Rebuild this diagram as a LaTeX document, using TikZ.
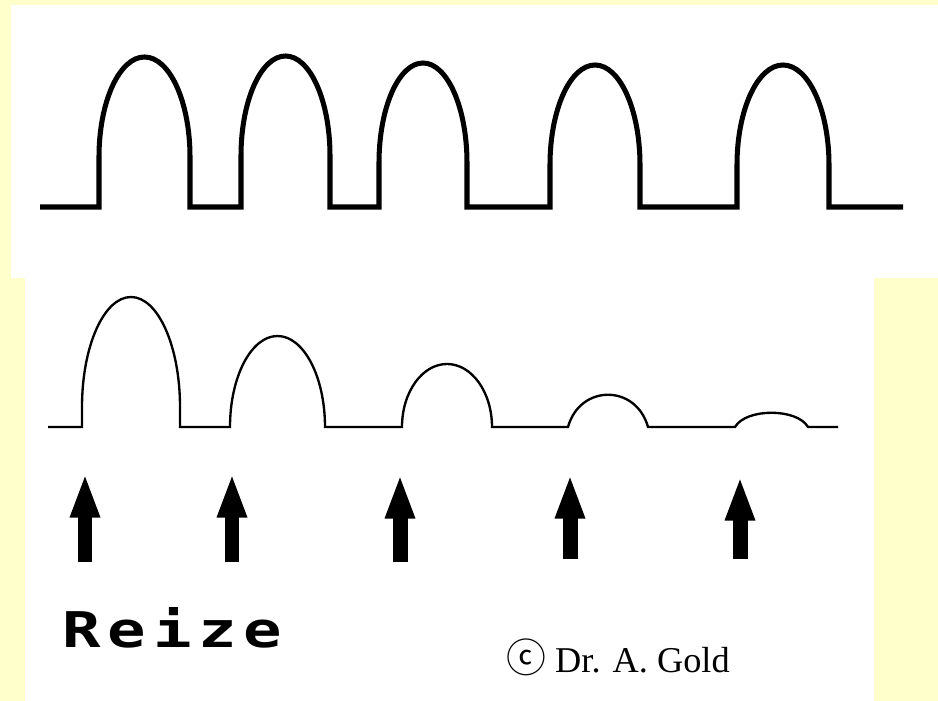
\documentclass[tikz,border=0pt]{standalone}
\usepackage{fontspec}
\usetikzlibrary{arrows.meta}
\newfontfamily\stimfont{DejaVu Sans Mono}[FakeStretch=1.3, LetterSpace=14]
\newfontfamily\signfont{Liberation Serif}
\newfontfamily\circfont{Noto Sans CJK SC}
\definecolor{paper}{RGB}{255,255,204}
\begin{document}
\begin{tikzpicture}[
    x=0.03cm, y=-0.03cm,
    strong/.style={line width=4.3pt, black},
    weak/.style={line width=2pt, black},
    stim/.style={line width=12.8pt, -{Triangle[width=23pt, length=38pt]}},
    label/.style={inner sep=0pt, anchor=base west}
]
\useasboundingbox (0,0) rectangle (938,701);

% Background panels
\fill[paper] (0,0) rectangle (938,701);
\fill[white] (11,5) rectangle (938,278);
\fill[white] (25,278) rectangle (874,701);

% Top: evenly firing signal
\draw[strong] (40,207) -- (99,207) -- (99,157)
    arc[start angle=180, end angle=360, x radius=45.5, y radius=100] -- (190,207)
    -- (241,207) -- (241,156)
    arc[start angle=180, end angle=360, x radius=44.5, y radius=100] -- (330,207)
    -- (379,207) -- (379,163)
    arc[start angle=180, end angle=360, x radius=44, y radius=100] -- (467,207)
    -- (550,207) -- (550,165)
    arc[start angle=180, end angle=360, x radius=45, y radius=100] -- (640,207)
    -- (737,207) -- (737,165)
    arc[start angle=180, end angle=360, x radius=46, y radius=100] -- (829,207)
    -- (903,207);

% Bottom: fading response
\draw[weak] (48,427) -- (82,427) -- (82,407)
    arc[start angle=180, end angle=360, x radius=49, y radius=110] -- (180,427)
    -- (230,427)
    arc[start angle=180, end angle=360, x radius=47.5, y radius=91]
    -- (402,427)
    arc[start angle=180, end angle=360, x radius=45, y radius=63]
    -- (568,427) .. controls (580,384) and (636,384) .. (648,427)
    -- (735,427) .. controls (746,408) and (797,408) .. (808,427)
    -- (838,427);

% Stimulus arrows
\coordinate (t1) at (85,562);  \coordinate (h1) at (85,473);
\coordinate (t2) at (232,562); \coordinate (h2) at (232,473);
\coordinate (t3) at (400,562); \coordinate (h3) at (400,474);
\coordinate (t4) at (570,559); \coordinate (h4) at (570,474);
\coordinate (t5) at (740,559); \coordinate (h5) at (740,476);
\draw[stim] (t1) -- (h1);
\draw[stim] (t2) -- (h2);
\draw[stim] (t3) -- (h3);
\draw[stim] (t4) -- (h4);
\draw[stim] (t5) -- (h5);

% Labels
\node[label] (reize) at (62,647) {\stimfont\bfseries\fontsize{42}{42}\selectfont Reize};
\node[inner sep=0pt] (circ) at (526,657) {\circfont\fontsize{34}{34}\selectfont ⓒ};
\node[label] (sign) at (555,672) {\signfont\fontsize{31}{31}\selectfont Dr. A. Gold};

\end{tikzpicture}
\end{document}
